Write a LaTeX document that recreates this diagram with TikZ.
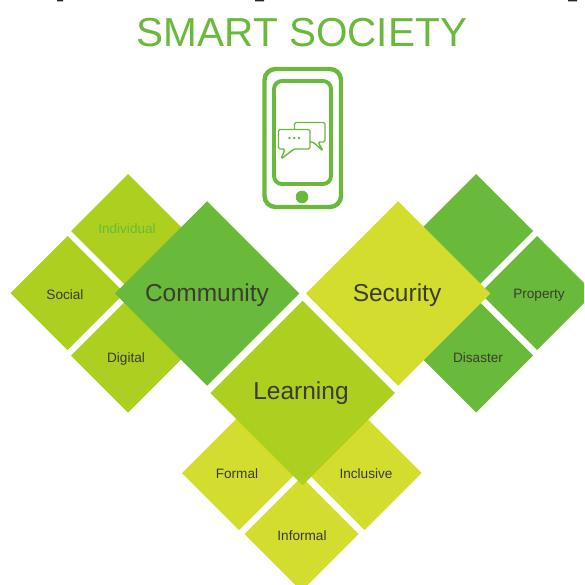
\documentclass[tikz,border=0pt]{standalone}
\usepackage{fontspec}
\setmainfont{Liberation Sans}
\usetikzlibrary{shapes.geometric}
\definecolor{gr}{HTML}{69B93B}
\definecolor{lm}{HTML}{ADCF20}
\definecolor{yl}{HTML}{D2DD2E}
\definecolor{ink}{HTML}{3C3C32}
\tikzset{
  small/.style={diamond,aspect=1,inner sep=0pt,outer sep=0pt,minimum width=114pt,minimum height=114pt},
  big/.style={diamond,aspect=1,inner sep=0pt,outer sep=0pt,minimum width=184.5pt,minimum height=184.5pt},
  lab/.style={text=ink,font=\fontsize{13.6}{15}\selectfont,inner sep=0pt},
  biglab/.style={text=ink,font=\fontsize{24.5}{28}\selectfont,inner sep=0pt},
  phone/.style={draw=gr,line width=4.4pt,rounded corners=11pt},
  bubble/.style={draw=gr,line width=1.4pt,rounded corners=1.5pt,fill=white,line join=round}
}
\begin{document}
\begin{tikzpicture}[x=1pt,y=-1pt]
\useasboundingbox (0,0) rectangle (584,585);
\clip (0,0) rectangle (584,585);
\fill[black!85] (57,0) rectangle (63,1.5) (255,0) rectangle (264,1.5) (568,0) rectangle (577,1.5);
\node[font=\fontsize{40.5}{44}\selectfont,text=gr,inner sep=0pt] (title) at (302,33) {SMART SOCIETY};
% phone
\draw[phone] (264.5,69) rectangle (341,207);
\draw[phone,rounded corners=8pt,line width=3.9pt] (274,81) rectangle (331,184);
\fill[gr] (302,197) circle (6.3);
\draw[bubble] (294.5,122.5) -- (325,122.5) -- (325,142) -- (318,142) -- (323,151) -- (313,142) -- (294.5,142) -- cycle;
\draw[bubble] (278.5,129.5) -- (310,129.5) -- (310,149) -- (294,149) -- (281,159) -- (285,149) -- (278.5,149) -- cycle;
\fill[gr] (289.5,138) circle (1.4) (294.2,138) circle (1.4) (299,138) circle (1.4);
% small diamonds
\node[small,fill=lm] (ind) at (128,231) {};
\node[small,fill=lm] (soc) at (67.5,293) {};
\node[small,fill=lm] (dig) at (128,355.5) {};
\node[small,fill=gr] (tr) at (476,231) {};
\node[small,fill=gr] (pro) at (537,293) {};
\node[small,fill=gr] (dis) at (476,355.5) {};
\node[small,fill=yl] (for) at (239,473) {};
\node[small,fill=yl] (inc) at (364.5,473) {};
\node[small,fill=yl] (inf) at (301.5,534) {};
% big diamonds
\node[big,fill=gr] (com) at (207,293.5) {};
\node[big,fill=yl] (sec) at (398,293.5) {};
\node[big,fill=lm] (lea) at (302.5,393) {};
% labels
\node[lab,text=gr] at (127,229) {Individual};
\node[lab] at (65,295) {Social};
\node[lab] at (126,359) {Digital};
\node[lab] at (539,295) {Property};
\node[lab] at (478,358) {Disaster};
\node[lab] at (237,474) {Formal};
\node[lab] at (366,474) {Inclusive};
\node[lab] at (302,536) {Informal};
\node[biglab] at (207,295.5) {Community};
\node[biglab] at (397,295.5) {Security};
\node[biglab] at (301,393.5) {Learning};
\end{tikzpicture}
\end{document}
